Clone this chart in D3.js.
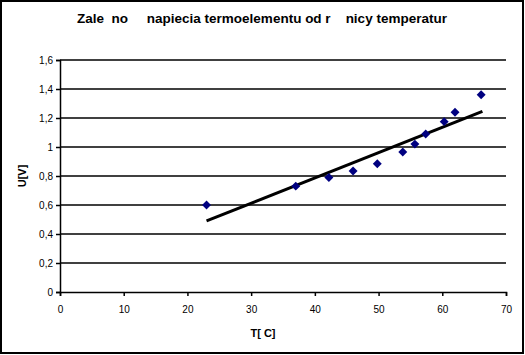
<!DOCTYPE html>
<html>
<head>
<meta charset="utf-8">
<script src="https://cdn.jsdelivr.net/npm/d3@7"></script>
<style>
  body { margin: 0; background: #fff; }
  svg { display: block; font-family: Arial, "Liberation Sans", sans-serif; }
</style>
</head>
<body>
<svg id="chart" width="525" height="355"></svg>
<script>
// measured points: temperature difference vs thermocouple voltage
var tempC = [23, 37, 42.2, 46, 49.8, 53.8, 55.7, 57.4, 60.3, 62, 66.1];
var voltU = [0.60, 0.73, 0.79, 0.835, 0.885, 0.965, 1.02, 1.09, 1.175, 1.24, 1.36];

// linear trendline as drawn (end points)
var trendT = [23, 66.3];
var trendU = [0.49, 1.245];

var xTicks = [0, 10, 20, 30, 40, 50, 60, 70];
var yTicks = [0, 0.2, 0.4, 0.6, 0.8, 1, 1.2, 1.4, 1.6];

var titleText = 'Zale  no     napiecia termoelementu od r    nicy temperatur';
var xLabel = 'T[ C]';
var yLabel = 'U[V]';

var svg = d3.select('#chart');

var x = d3.scaleLinear().domain([0, 70]).range([60, 506]);
var y = d3.scaleLinear().domain([0, 1.6]).range([292, 60]);

// outer frame
svg.append('rect')
    .attr('x', 1).attr('y', 1)
    .attr('width', 522).attr('height', 352)
    .attr('fill', '#fff')
    .attr('stroke', '#000')
    .attr('stroke-width', 2);

svg.append('text')
    .attr('x', 262).attr('y', 23)
    .attr('text-anchor', 'middle')
    .attr('font-size', 13.5)
    .attr('font-weight', 'bold')
    .style('white-space', 'pre')
    .text(titleText);

// horizontal gridlines
svg.append('g').selectAll('line').data(yTicks.slice(1)).enter().append('line')
    .attr('x1', x(0)).attr('x2', x(70))
    .attr('y1', function (d) { return y(d); })
    .attr('y2', function (d) { return y(d); })
    .attr('stroke', '#000')
    .attr('stroke-width', 1.5);

var fmt = function (d) { return String(d).replace('.', ','); };

var xAxis = svg.append('g')
    .attr('transform', 'translate(0,' + y(0) + ')')
    .call(d3.axisBottom(x).tickValues(xTicks).tickSize(4).tickPadding(10).tickFormat(fmt));
var yAxis = svg.append('g')
    .attr('transform', 'translate(' + x(0) + ',0)')
    .call(d3.axisLeft(y).tickValues(yTicks).tickSize(4).tickPadding(3).tickFormat(fmt));

[xAxis, yAxis].forEach(function (a) {
  a.select('.domain').attr('stroke', '#000').attr('stroke-width', 1.5);
  a.selectAll('.tick line').attr('stroke', '#000').attr('stroke-width', 1.5);
  a.selectAll('.tick text').attr('fill', '#000').attr('font-size', 10)
      .attr('font-family', 'Arial, "Liberation Sans", sans-serif');
});

// trendline
svg.append('line')
    .attr('x1', x(trendT[0])).attr('y1', y(trendU[0]))
    .attr('x2', x(trendT[1])).attr('y2', y(trendU[1]))
    .attr('stroke', '#000')
    .attr('stroke-width', 3);

// diamond markers
var diamond = d3.symbol().type(d3.symbolSquare).size(40);
svg.append('g').selectAll('path').data(tempC).enter().append('path')
    .attr('d', diamond)
    .attr('transform', function (d, i) {
      return 'translate(' + x(d) + ',' + y(voltU[i]) + ') rotate(45)';
    })
    .attr('fill', '#000080');

svg.append('text')
    .attr('x', 263).attr('y', 337)
    .attr('text-anchor', 'middle')
    .attr('font-size', 11)
    .attr('font-weight', 'bold')
    .style('white-space', 'pre')
    .text(xLabel);

svg.append('text')
    .attr('transform', 'translate(26,176) rotate(-90)')
    .attr('text-anchor', 'middle')
    .attr('font-size', 11)
    .attr('font-weight', 'bold')
    .text(yLabel);
</script>
</body>
</html>
